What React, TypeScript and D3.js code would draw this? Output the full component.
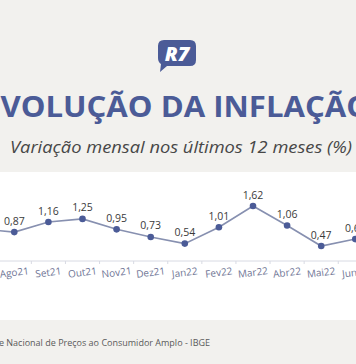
import React from "react";
import * as d3 from "d3";

const categories = ["Jul21", "Ago21", "Set21", "Out21", "Nov21", "Dez21", "Jan22", "Fev22", "Mar22", "Abr22", "Mai22", "Jun22"];
const values = [0.96, 0.87, 1.16, 1.25, 0.95, 0.73, 0.54, 1.01, 1.62, 1.06, 0.47, 0.67];
const title = "EVOLUÇÃO DA INFLAÇÃO";
const subtitle = "Variação mensal nos últimos 12 meses (%)";
const source = "Fonte: Índice Nacional de Preços ao Consumidor Amplo - IBGE";

const W = 356;
const H = 364;
const DARK = "#4b5b97";

export default function App() {
  const x = d3.scalePoint<string>().domain(categories).range([-19.8, 355.3]);
  const step = x.step();
  const y = d3.scaleLinear().domain([0, 2]).range([262.4, 192.8]);
  const line = d3
    .line<number>()
    .x((_, i) => x(categories[i]) as number)
    .y((d) => y(d))
    .curve(d3.curveLinear);
  const axisY = 261;
  const fmt = (v: number) => v.toFixed(2).replace(".", ",");

  return (
    <div style={{ position: "fixed", left: 0, top: 0, width: W, height: H }}>
      <svg width={W} height={H} style={{ display: "block" }}>
        <rect x={0} y={0} width={W} height={H} fill="#f2f1ee" />
        <rect x={0} y={172} width={W} height={148} fill="#ffffff" />
        {/* logo */}
        <g>
          <path d="M164,40 H190 Q196,40 196,46 V60 Q196,66 190,66 H167 L160,72 L161,64 Q158,62 158,58 V46 Q158,40 164,40 Z" fill={DARK} />
          <text x={177} y={61} textAnchor="middle" fill="#ffffff" fontFamily="'Open Sans', sans-serif" fontWeight={800} fontSize={20} fontStyle="italic">R7</text>
        </g>
        <text x={177} y={117} textAnchor="middle" fill={DARK} fontFamily="'Open Sans', sans-serif" fontWeight={700} fontSize={28.5} textLength={388} lengthAdjust="spacingAndGlyphs">{title}</text>
        <text x={181} y={153} textAnchor="middle" fill="#474747" fontFamily="'Open Sans', sans-serif" fontStyle="italic" fontSize={17} textLength={342} lengthAdjust="spacingAndGlyphs">{subtitle}</text>
        {/* axis */}
        <line x1={0} x2={W} y1={axisY} y2={axisY} stroke="#d8dae3" strokeWidth={1} />
        {categories.map((c, i) => (
          <line key={"t" + i} x1={(x(c) as number) + step / 2} x2={(x(c) as number) + step / 2} y1={axisY} y2={axisY + 3} stroke="#d8dae3" strokeWidth={1} />
        ))}
        {categories.map((c) => {
          const cx = x(c) as number;
          return (
            <text key={"l" + c} x={cx} y={276} textAnchor="middle" fill="#6f7595" fontFamily="'Open Sans', sans-serif" fontSize={10} transform={`rotate(-7 ${cx} 273)`}>{c}</text>
          );
        })}
        <path d={line(values) || ""} fill="none" stroke="#8790b0" strokeWidth={1.6} />
        {values.map((v, i) => (
          <circle key={"p" + i} cx={x(categories[i]) as number} cy={y(v)} r={3.3} fill={DARK} />
        ))}
        {values.map((v, i) => (
          <text key={"v" + i} x={x(categories[i]) as number} y={y(v) - 7.5} textAnchor="middle" fill="#3a3a3a" fontFamily="'Open Sans', sans-serif" fontSize={10.5}>{fmt(v)}</text>
        ))}
        <text x={210} y={346} textAnchor="end" fill="#5a5a5a" fontFamily="'Open Sans', sans-serif" fontSize={9}>{source}</text>
      </svg>
    </div>
  );
}
